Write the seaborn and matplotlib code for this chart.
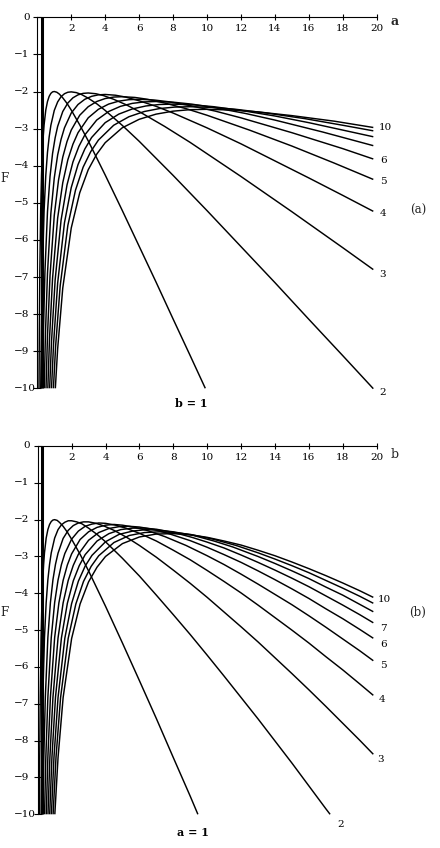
import numpy as np
import pandas as pd
import matplotlib
matplotlib.use("Agg")
import matplotlib.pyplot as plt
import seaborn as sns

# ---------------- panel (a): F versus a, one curve per b ----------------
pa_b1_a = [0.1, 0.12, 0.15, 0.2, 0.25, 0.3, 0.35, 0.4, 0.5, 0.6, 0.7, 0.8, 0.9, 1.0, 1.15, 1.3, 1.5, 1.75, 2.0, 2.5, 3.0, 3.5, 4, 5, 6, 7, 8, 9, 9.9]
pa_b1_F = [-10.0, -8.45, -6.82, -5.2, -4.25, -3.63, -3.21, -2.9, -2.5, -2.27, -2.13, -2.05, -2.01, -2.0, -2.02, -2.07, -2.17, -2.32, -2.5, -2.9, -3.33, -3.79, -4.25, -5.2, -6.17, -7.14, -8.13, -9.11, -10.0]
pa_b2_a = [0.202, 0.24, 0.3, 0.4, 0.5, 0.6, 0.7, 0.8, 1.0, 1.2, 1.4, 1.6, 1.8, 2.0, 2.3, 2.6, 3.0, 3.5, 4, 5, 6, 7, 8, 10, 12, 14, 16, 18, 19.8]
pa_b2_F = [-10.0, -8.46, -6.83, -5.21, -4.26, -3.64, -3.22, -2.91, -2.51, -2.28, -2.14, -2.06, -2.02, -2.01, -2.03, -2.08, -2.18, -2.33, -2.51, -2.91, -3.34, -3.80, -4.26, -5.21, -6.18, -7.15, -8.14, -9.12, -10.01]
pa_b3_a = [0.305, 0.36, 0.45, 0.6, 0.75, 0.9, 1.05, 1.2, 1.5, 1.8, 2.1, 2.4, 2.7, 3.0, 3.45, 3.9, 4.5, 5.25, 6, 7.5, 9, 10.5, 12, 15, 18, 19.8]
pa_b3_F = [-10.0, -8.49, -6.86, -5.24, -4.29, -3.67, -3.25, -2.94, -2.54, -2.31, -2.17, -2.09, -2.05, -2.04, -2.06, -2.11, -2.21, -2.36, -2.54, -2.94, -3.37, -3.83, -4.29, -5.24, -6.21, -6.80]
pa_b4_a = [0.407, 0.48, 0.6, 0.8, 1.0, 1.2, 1.4, 1.6, 2.0, 2.4, 2.8, 3.2, 3.6, 4.0, 4.6, 5.2, 6.0, 7.0, 8, 10, 12, 14, 16, 18, 19.8]
pa_b4_F = [-10.0, -8.53, -6.90, -5.28, -4.33, -3.71, -3.29, -2.98, -2.58, -2.35, -2.21, -2.13, -2.09, -2.08, -2.10, -2.15, -2.25, -2.40, -2.58, -2.98, -3.41, -3.87, -4.33, -4.80, -5.23]
pa_b5_a = [0.512, 0.6, 0.75, 1.0, 1.25, 1.5, 1.75, 2.0, 2.5, 3.0, 3.5, 4.0, 4.5, 5.0, 5.75, 6.5, 7.5, 8.75, 10, 12.5, 15, 17.5, 19.8]
pa_b5_F = [-10.0, -8.59, -6.96, -5.34, -4.39, -3.77, -3.35, -3.04, -2.64, -2.41, -2.27, -2.19, -2.15, -2.14, -2.16, -2.21, -2.31, -2.46, -2.64, -3.04, -3.47, -3.93, -4.37]
pa_b6_a = [0.62, 0.72, 0.9, 1.2, 1.5, 1.8, 2.1, 2.4, 3.0, 3.6, 4.2, 4.8, 5.4, 6.0, 6.9, 7.8, 9, 10.5, 12, 15, 18, 19.8]
pa_b6_F = [-10.0, -8.66, -7.03, -5.41, -4.46, -3.84, -3.42, -3.11, -2.71, -2.48, -2.34, -2.26, -2.22, -2.21, -2.23, -2.28, -2.38, -2.53, -2.71, -3.11, -3.54, -3.82]
pa_b7_a = [0.727, 0.84, 1.05, 1.4, 1.75, 2.1, 2.45, 2.8, 3.5, 4.2, 4.9, 5.6, 6.3, 7.0, 8.05, 9.1, 10.5, 12.25, 14, 16.8, 19.8]
pa_b7_F = [-10.0, -8.72, -7.09, -5.47, -4.52, -3.90, -3.48, -3.17, -2.77, -2.54, -2.40, -2.32, -2.28, -2.27, -2.29, -2.34, -2.44, -2.59, -2.77, -3.09, -3.46]
pa_b8_a = [0.837, 0.96, 1.2, 1.6, 2.0, 2.4, 2.8, 3.2, 4.0, 4.8, 5.6, 6.4, 7.2, 8.0, 9.2, 10.4, 12, 14, 16, 19.8]
pa_b8_F = [-10.0, -8.79, -7.16, -5.54, -4.59, -3.97, -3.55, -3.24, -2.84, -2.61, -2.47, -2.39, -2.35, -2.34, -2.36, -2.41, -2.51, -2.66, -2.84, -3.22]
pa_b9_a = [0.95, 1.08, 1.35, 1.8, 2.25, 2.7, 3.15, 3.6, 4.5, 5.4, 6.3, 7.2, 8.1, 9.0, 10.35, 11.7, 13.5, 15.75, 18, 19.8]
pa_b9_F = [-10.0, -8.86, -7.23, -5.61, -4.66, -4.04, -3.62, -3.31, -2.91, -2.68, -2.54, -2.46, -2.42, -2.41, -2.43, -2.48, -2.58, -2.73, -2.91, -3.06]
pa_b10_a = [1.063, 1.2, 1.5, 2.0, 2.5, 3.0, 3.5, 4.0, 5.0, 6.0, 7.0, 8.0, 9.0, 10, 11.5, 13, 15, 17.5, 19.8]
pa_b10_F = [-10.0, -8.93, -7.30, -5.68, -4.73, -4.11, -3.69, -3.38, -2.98, -2.75, -2.61, -2.53, -2.49, -2.48, -2.50, -2.55, -2.65, -2.80, -2.97]

# ---------------- panel (b): F versus b, one curve per a ----------------
pb_a1_b = [0.101, 0.12, 0.15, 0.2, 0.25, 0.3, 0.35, 0.4, 0.5, 0.6, 0.7, 0.8, 0.9, 1.0, 1.15, 1.3, 1.5, 1.75, 2.0, 2.5, 3, 3.5, 4, 5, 6, 7, 8, 9, 9.45]
pb_a1_F = [-10.0, -8.45, -6.82, -5.2, -4.25, -3.63, -3.21, -2.9, -2.5, -2.27, -2.13, -2.05, -2.01, -2.0, -2.02, -2.08, -2.18, -2.34, -2.53, -2.94, -3.39, -3.87, -4.35, -5.35, -6.37, -7.40, -8.46, -9.51, -10.0]
pb_a2_b = [0.202, 0.24, 0.3, 0.4, 0.5, 0.6, 0.7, 0.8, 1.0, 1.2, 1.4, 1.6, 1.8, 2.0, 2.3, 2.6, 3.0, 3.5, 4, 5, 6, 7, 8, 9, 10, 11, 12, 13, 14, 15, 16, 17, 17.25]
pb_a2_F = [-10.0, -8.45, -6.82, -5.2, -4.25, -3.63, -3.21, -2.9, -2.5, -2.27, -2.14, -2.07, -2.03, -2.03, -2.06, -2.11, -2.23, -2.40, -2.60, -3.05, -3.53, -4.05, -4.58, -5.12, -5.68, -6.25, -6.83, -7.41, -8.01, -8.61, -9.23, -9.85, -10.0]
pb_a3_b = [0.303, 0.36, 0.45, 0.6, 0.75, 0.9, 1.05, 1.2, 1.5, 1.8, 2.1, 2.4, 2.7, 3.0, 3.45, 3.9, 4.5, 5.25, 6, 7, 8, 9, 10, 11, 12, 13, 14, 15, 16, 17, 18, 19, 19.8]
pb_a3_F = [-10.0, -8.45, -6.82, -5.2, -4.25, -3.63, -3.21, -2.91, -2.51, -2.29, -2.16, -2.09, -2.06, -2.06, -2.10, -2.17, -2.29, -2.48, -2.70, -3.02, -3.37, -3.73, -4.11, -4.51, -4.91, -5.32, -5.75, -6.18, -6.62, -7.07, -7.53, -7.99, -8.37]
pb_a4_b = [0.404, 0.48, 0.6, 0.8, 1.0, 1.2, 1.4, 1.6, 2.0, 2.4, 2.8, 3.2, 3.6, 4.0, 4.6, 5.2, 6, 7, 8, 9, 10, 11, 12, 13, 14, 15, 16, 17, 18, 19, 19.8]
pb_a4_F = [-10.0, -8.45, -6.82, -5.2, -4.25, -3.64, -3.22, -2.92, -2.53, -2.31, -2.18, -2.12, -2.09, -2.10, -2.15, -2.23, -2.37, -2.58, -2.83, -3.09, -3.38, -3.68, -3.99, -4.32, -4.66, -5.00, -5.35, -5.72, -6.08, -6.46, -6.77]
pb_a5_b = [0.505, 0.6, 0.75, 1.0, 1.25, 1.5, 1.75, 2.0, 2.5, 3.0, 3.5, 4.0, 4.5, 5.0, 5.75, 6.5, 7.5, 8.75, 10, 11, 12, 13, 14, 15, 16, 17, 18, 19, 19.8]
pb_a5_F = [-10.0, -8.45, -6.82, -5.2, -4.26, -3.65, -3.23, -2.93, -2.54, -2.33, -2.21, -2.15, -2.13, -2.15, -2.21, -2.30, -2.46, -2.70, -2.98, -3.22, -3.48, -3.75, -4.03, -4.31, -4.61, -4.92, -5.24, -5.56, -5.83]
pb_a6_b = [0.606, 0.72, 0.9, 1.2, 1.5, 1.8, 2.1, 2.4, 3.0, 3.6, 4.2, 4.8, 5.4, 6.0, 6.9, 7.8, 9, 10, 11, 12, 13, 14, 15, 16, 17, 18, 19, 19.8]
pb_a6_F = [-10.0, -8.45, -6.82, -5.21, -4.26, -3.65, -3.24, -2.94, -2.56, -2.35, -2.24, -2.19, -2.18, -2.20, -2.27, -2.39, -2.57, -2.75, -2.95, -3.16, -3.39, -3.63, -3.88, -4.14, -4.42, -4.69, -4.98, -5.22]
pb_a7_b = [0.707, 0.84, 1.05, 1.4, 1.75, 2.1, 2.45, 2.8, 3.5, 4.2, 4.9, 5.6, 6.3, 7.0, 8.05, 9.1, 10, 11, 12, 13, 14, 15, 16, 17, 18, 19, 19.8]
pb_a7_F = [-10.0, -8.45, -6.82, -5.21, -4.27, -3.66, -3.25, -2.95, -2.58, -2.38, -2.27, -2.23, -2.23, -2.26, -2.35, -2.48, -2.61, -2.77, -2.96, -3.16, -3.37, -3.59, -3.82, -4.07, -4.32, -4.58, -4.80]
pb_a8_b = [0.808, 0.96, 1.2, 1.6, 2.0, 2.4, 2.8, 3.2, 4.0, 4.8, 5.6, 6.4, 7.2, 8.0, 9.2, 10.4, 11.5, 13, 14, 15, 16, 17, 18, 19, 19.8]
pb_a8_F = [-10.0, -8.45, -6.83, -5.22, -4.28, -3.67, -3.26, -2.97, -2.60, -2.40, -2.31, -2.27, -2.29, -2.33, -2.43, -2.58, -2.74, -3.00, -3.19, -3.39, -3.60, -3.83, -4.05, -4.30, -4.50]
pb_a9_b = [0.909, 1.08, 1.35, 1.8, 2.25, 2.7, 3.15, 3.6, 4.5, 5.4, 6.3, 7.2, 8.1, 9.0, 10.35, 11.7, 13, 14, 15, 16, 17, 18, 19, 19.8]
pb_a9_F = [-10.0, -8.45, -6.83, -5.22, -4.29, -3.68, -3.27, -2.98, -2.62, -2.43, -2.35, -2.33, -2.35, -2.40, -2.53, -2.70, -2.90, -3.07, -3.25, -3.44, -3.65, -3.86, -4.08, -4.27]
pb_a10_b = [1.01, 1.2, 1.5, 2.0, 2.5, 3.0, 3.5, 4.0, 5.0, 6.0, 7.0, 8.0, 9.0, 10, 11, 12, 13, 14, 15, 16, 17, 18, 19, 19.8]
pb_a10_F = [-10.0, -8.46, -6.83, -5.23, -4.29, -3.69, -3.29, -3.00, -2.65, -2.47, -2.39, -2.38, -2.41, -2.48, -2.58, -2.69, -2.83, -2.98, -3.15, -3.33, -3.52, -3.72, -3.93, -4.11]

# heavy vertical stroke next to the F axis (both panels)
bar_x = [0.28, 0.28]
bar_F = [0.0, -10.0]

# tick labels
x_ticks = [2, 4, 6, 8, 10, 12, 14, 16, 18, 20]
y_ticks = [0, -1, -2, -3, -4, -5, -6, -7, -8, -9, -10]
y_ticklabels = ["0", "\u22121", "\u22122", "\u22123", "\u22124", "\u22125",
                "\u22126", "\u22127", "\u22128", "\u22129", "\u221210"]

# curve end labels  (text, x, F)
labels_a = [("10", 20.15, -2.98), ("6", 20.2, -3.87), ("5", 20.2, -4.42),
            ("4", 20.15, -5.30), ("3", 20.15, -6.92), ("2", 20.15, -10.12)]
labels_b = [("10", 20.05, -4.18), ("7", 20.2, -4.95), ("6", 20.2, -5.38),
            ("5", 20.2, -5.95), ("4", 20.1, -6.87), ("3", 20.05, -8.52), ("2", 17.7, -10.29)]

curves_a = [pa_b1_a, pa_b2_a, pa_b3_a, pa_b4_a, pa_b5_a, pa_b6_a, pa_b7_a, pa_b8_a, pa_b9_a, pa_b10_a]
curvesF_a = [pa_b1_F, pa_b2_F, pa_b3_F, pa_b4_F, pa_b5_F, pa_b6_F, pa_b7_F, pa_b8_F, pa_b9_F, pa_b10_F]
curves_b = [pb_a1_b, pb_a2_b, pb_a3_b, pb_a4_b, pb_a5_b, pb_a6_b, pb_a7_b, pb_a8_b, pb_a9_b, pb_a10_b]
curvesF_b = [pb_a1_F, pb_a2_F, pb_a3_F, pb_a4_F, pb_a5_F, pb_a6_F, pb_a7_F, pb_a8_F, pb_a9_F, pb_a10_F]

sns.set_theme(style="white")
plt.rcParams['font.family'] = ['DejaVu Serif', 'Liberation Serif']
plt.rcParams['axes.unicode_minus'] = True

W, H = 440, 848
fig = plt.figure(figsize=(W / 100, H / 100), dpi=100)


def make_df(xs_list, fs_list):
    rows = []
    for k, (xs, fs) in enumerate(zip(xs_list, fs_list), start=1):
        for x, f in zip(xs, fs):
            rows.append((k, x, f))
    return pd.DataFrame(rows, columns=["curve", "x", "F"])


def panel(rect, xs_list, fs_list, end_labels, bottom_text, bottom_xy, axis_name,
          axis_bold, tag, tag_y_px, F_y_px):
    ax = fig.add_axes(rect)
    df = make_df(xs_list, fs_list)
    sns.lineplot(data=df, x="x", y="F", units="curve", estimator=None, sort=False,
                 color="black", lw=1.05, ax=ax, legend=False)
    sns.lineplot(x=bar_x, y=bar_F, color="black", lw=2.2, ax=ax, legend=False,
                 estimator=None, sort=False)
    for ln in ax.lines:
        ln.set_clip_on(False)
        ln.set_solid_capstyle("butt")
        ln.set_solid_joinstyle("round")
    ax.set_xlim(0, 20)
    ax.set_ylim(-10, 0)
    ax.set_facecolor("white")
    for s in ["right", "bottom"]:
        ax.spines[s].set_visible(False)
    for s in ["top", "left"]:
        ax.spines[s].set_color("black")
        ax.spines[s].set_linewidth(0.8)
    ax.xaxis.set_ticks_position("top")
    ax.set_xticks(x_ticks)
    ax.set_yticks(y_ticks)
    ax.tick_params(axis="x", direction="inout", length=5, width=0.8, color="black",
                   top=True, bottom=False, labeltop=False, labelbottom=False)
    ax.tick_params(axis="y", direction="inout", length=6, width=0.8, color="black",
                   left=True, labelleft=False)
    ax.set_xlabel("")
    ax.set_ylabel("")
    # x tick labels, written just under the top axis line
    xtr = ax.get_xaxis_transform()
    ax_h_px = rect[3] * H
    for t in x_ticks:
        ax.text(t, 1 - 11.5 / ax_h_px, str(t), transform=xtr, ha="center",
                va="center", fontsize=7.5, color="black")
    # y tick labels
    ytr = ax.get_yaxis_transform()
    ax_w_px = rect[2] * W
    x0_px = rect[0] * W
    for v, s in zip(y_ticks, y_ticklabels):
        if v == 0:
            ax.text((29.5 - x0_px) / ax_w_px, v, s, transform=ytr, ha="right",
                    va="center", fontsize=7.5, color="black")
        else:
            ax.text((13.5 - x0_px) / ax_w_px, v, s, transform=ytr, ha="left",
                    va="center", fontsize=7.5, color="black")
    for s, x, f in end_labels:
        ax.text(x, f, s, ha="left", va="center", fontsize=7.5, color="black")
    ax.text(bottom_xy[0], bottom_xy[1], bottom_text, ha="center", va="center",
            fontsize=8, fontweight="bold", color="black")
    top_px = H - (rect[1] + rect[3]) * H
    fig.text(395 / W, 1 - (top_px + axis_name[1]) / H, axis_name[0], ha="center",
             va="center", fontsize=9, fontweight=("bold" if axis_bold else "normal"))
    fig.text(418 / W, 1 - tag_y_px / H, tag, ha="center", va="center", fontsize=8.5)
    fig.text(4.5 / W, 1 - F_y_px / H, "F", ha="center", va="center", fontsize=8.5)
    return ax


rect_a = [37.3 / W, (H - 388.3) / H, 339.4 / W, 371.0 / H]
rect_b = [37.7 / W, (H - 814.3) / H, 339.0 / W, 368.3 / H]

panel(rect_a, curves_a, curvesF_a, labels_a, "b = 1", (9.1, -10.42), ("a", 4.0),
      True, "(a)", 210, 178)
panel(rect_b, curves_b, curvesF_b, labels_b, "a = 1", (9.15, -10.49), ("b", 9.0),
      False, "(b)", 612, 613)

fig.savefig("out.png", dpi=100, facecolor="white")
